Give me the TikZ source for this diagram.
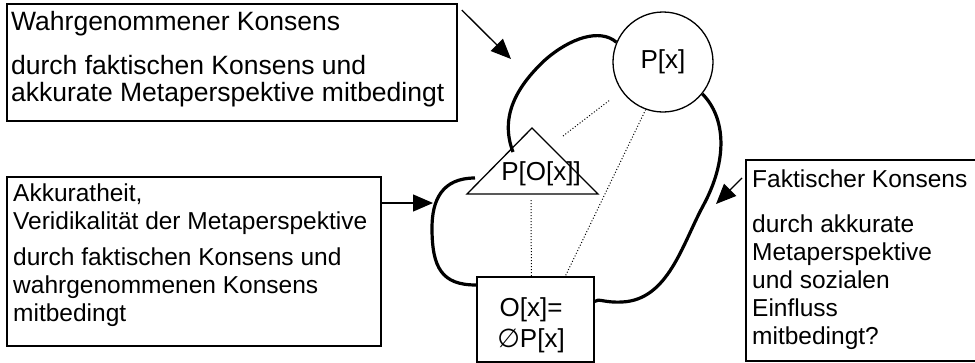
\documentclass[tikz,border=0pt]{standalone}
\usepackage{fontspec}
\setmainfont{Liberation Sans}
\newfontfamily\symbolschrift{DejaVu Sans}
\usetikzlibrary{arrows.meta}
\tikzset{
	kasten/.style={draw,line width=1.8pt,inner sep=0pt,anchor=north west},
	schrift/.style={anchor=base west,align=left,inner sep=0pt,font=\fontsize{24.5}{28}\selectfont},
	gross/.style={inner sep=0pt,font=\fontsize{26}{31}\selectfont},
	bogen/.style={line width=3.2pt},
	pfeil/.style={line width=1.3pt,-{Triangle[length=20pt,width=17pt]}},
	punkt/.style={dotted,line width=1pt},
}
\begin{document}
\begin{tikzpicture}[x=1pt,y=-1pt]
	\useasboundingbox (0,0) rectangle (975,362);
	% Kaesten
	\node[kasten,minimum width=450pt,minimum height=117pt] (wahr) at (6,3) {};
	\node[kasten,minimum width=374pt,minimum height=169pt] (akk) at (6,176) {};
	\node[kasten,minimum width=260pt,minimum height=201pt] (fak) at (745,159) {};
	\node[kasten,minimum width=117pt,minimum height=85pt] (ox) at (476,276) {};
	\node[schrift,font=\fontsize{26.5}{27.5}\selectfont] (wahrT) at ([shift={(5,-20)}]wahr.south west)
		{Wahrgenommener Konsens\\[16pt]durch faktischen Konsens und\\akkurate Metaperspektive mitbedingt};
	\node[schrift] (akkT) at ([shift={(7,-25)}]akk.south west)
		{Akkuratheit,\\Veridikalität der Metaperspektive\\[8pt]durch faktischen Konsens und\\wahrgenommenen Konsens\\mitbedingt};
	\node[schrift] (fakT) at ([shift={(7,-17)}]fak.south west)
		{Faktischer Konsens\\[17pt]durch akkurate\\Metaperspektive\\und sozialen\\Einfluss\\mitbedingt?};
	% Kreis und Dreieck
	\node[draw,circle,line width=1.3pt,minimum size=100pt,gross] (px) at (663,62) {P[x]};
	\coordinate (spitze) at (532,128);
	\coordinate (links) at (467,194);
	\coordinate (rechts) at (598,194);
	\draw[line width=1.3pt] (spitze) -- (links) -- (rechts) -- cycle;
	\node[gross,anchor=base] (pox) at (541,180) {P[O[x]]};
	\node[gross,anchor=base,align=center] (oxT) at (531,347) {O[x]=\\{\symbolschrift ∅}P[x]};
	% Boegen
	\coordinate (t1) at (513,152);
	\coordinate (t2) at (475,178);
	\draw[bogen] (t1) .. controls (500,118) and (515,88) .. (545,60)
		.. controls (570,38) and (600,28) .. (px.157);
	\draw[bogen] (px.-39) .. controls (726,118) and (728,160) .. (703,206)
		.. controls (682,245) and (668,300) .. (622,302)
		.. controls (605,303) and (598,298) .. ([yshift=18pt]ox.east);
	\draw[bogen] (t2) .. controls (442,178) and (432,200) .. (432,228)
		.. controls (432,268) and (442,285) .. ([yshift=-9pt]ox.north west);
	% Pfeile
	\coordinate (z1) at (511,59);
	\coordinate (z2) at (433,203);
	\coordinate (z3) at (716,204);
	\draw[pfeil] ([shift={(4,7)}]wahr.north east) -- (z1);
	\draw[pfeil] (akk.east |- z2) -- (z2);
	\draw[pfeil] ([shift={(-3,19)}]fak.north west) -- (z3);
	% gepunktete Linien
	\coordinate (d1) at (563,136);
	\draw[punkt,shorten >=15pt] (d1) -- (px.215);
	\draw[punkt] (px.250) -- ([xshift=30pt]ox.north);
	\draw[punkt] (531,200) -- ([xshift=-4pt]ox.north);
\end{tikzpicture}
\end{document}
